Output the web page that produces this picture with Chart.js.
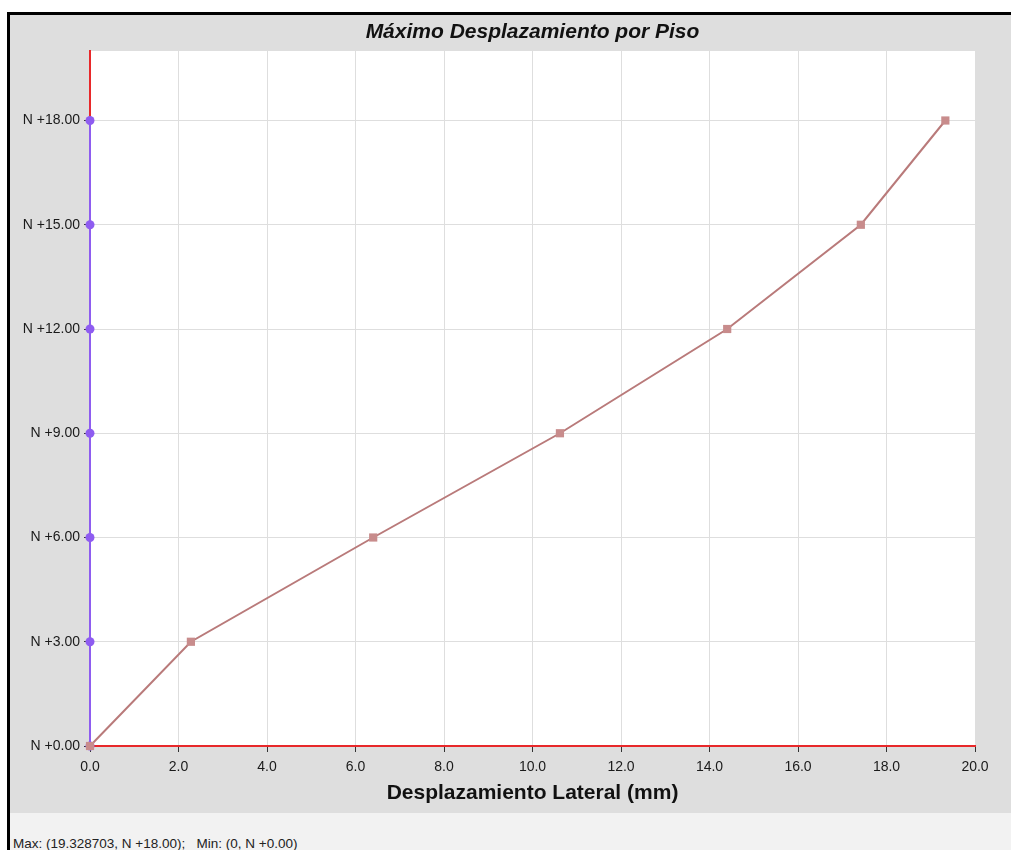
<!DOCTYPE html>
<html>
<head>
<meta charset="utf-8">
<script src="https://cdn.jsdelivr.net/npm/chart.js@4/dist/chart.umd.min.js"></script>
<style>
  html, body { margin: 0; padding: 0; background: #ffffff; width: 1011px; height: 850px; overflow: hidden; }
  #frame { position: absolute; left: 7px; top: 12px; width: 1004px; height: 838px;
           border-top: 3px solid #000; border-left: 3px solid #000; background: #dedede; }
  #plot { position: absolute; left: 0; top: 0; }
  #footer { position: absolute; left: 0; top: 798px; width: 1004px; height: 40px; background: #f2f2f2;
            font-family: "Liberation Sans", Arial, sans-serif; font-size: 13.5px; color: #222; }
  #footer span { position: absolute; left: 3px; top: 23px; white-space: pre; }
</style>
</head>
<body>
<div id="frame">
  <canvas id="plot" width="1001" height="798"></canvas>
  <div id="footer"><span id="footText"></span></div>
</div>
<script>
// ---- data ----
const floors = [0, 3, 6, 9, 12, 15, 18];
const displacements = [0, 2.28, 6.40, 10.62, 14.40, 17.42, 19.33];
const axisMarkerX = [0, 0, 0, 0, 0, 0, 0];
const chartTitle = "Máximo Desplazamiento por Piso";
const xAxisTitle = "Desplazamiento Lateral (mm)";
const footerText = "Max: (19.328703, N +18.00);   Min: (0, N +0.00)";

document.getElementById('footText').textContent = footerText;

const floorLabel = v => 'N +' + Number(v).toFixed(2);
const FONT = '"Liberation Sans", Arial, sans-serif';

const titlePlugin = {
  id: 'centeredTitle',
  afterDraw(chart) {
    const ctx = chart.ctx, a = chart.chartArea;
    ctx.save();
    ctx.font = 'italic bold 21px ' + FONT;
    ctx.fillStyle = '#111';
    ctx.textAlign = 'center';
    ctx.textBaseline = 'middle';
    ctx.fillText(chartTitle, (a.left + a.right) / 2, 17);
    ctx.restore();
  }
};
const plotBg = {
  id: 'plotBg',
  beforeDraw(chart) {
    const ctx = chart.ctx, a = chart.chartArea;
    ctx.save();
    ctx.fillStyle = '#ffffff';
    ctx.fillRect(a.left, a.top, a.right - a.left, a.bottom - a.top);
    ctx.restore();
  }
};

new Chart(document.getElementById('plot'), {
  type: 'scatter',
  data: {
    datasets: [
      {
        label: 'Desplazamiento',
        data: displacements.map((x, i) => ({ x: x, y: floors[i] })),
        showLine: true,
        clip: false,
        borderColor: '#b97a7a',
        backgroundColor: '#c88c8c',
        borderWidth: 2,
        pointStyle: 'rect',
        pointRadius: 5.8,
        pointBorderWidth: 0,
        order: 1
      },
      {
        label: 'Niveles',
        data: axisMarkerX.map((x, i) => ({ x: x, y: floors[i] })),
        showLine: true,
        clip: false,
        borderColor: '#8e5cf0',
        backgroundColor: '#8e5cf0',
        borderWidth: 2,
        pointStyle: 'circle',
        pointRadius: 4.5,
        pointBorderWidth: 0,
        order: 2
      }
    ]
  },
  options: {
    responsive: false,
    animation: false,
    layout: { padding: { top: 36, right: 36, left: 0, bottom: 0 } },
    plugins: { legend: { display: false }, tooltip: { enabled: false }, title: { display: false } },
    scales: {
      x: {
        type: 'linear', min: 0, max: 20,
        afterFit(s) { s.height = 67; },
        border: { color: '#e8282a', width: 2 },
        grid: { color: '#dedede', lineWidth: 1, tickLength: 6, tickColor: '#333' },
        ticks: { stepSize: 2, color: '#1a1a1a', padding: 7,
                 font: { family: FONT, size: 14 },
                 callback: v => Number(v).toFixed(1) },
        title: { display: true, text: xAxisTitle, color: '#111', padding: { top: 2, bottom: 7 },
                 font: { family: FONT, size: 21, weight: 'bold' } }
      },
      y: {
        type: 'linear', min: 0, max: 20,
        afterFit(s) { s.width = 80; },
        border: { color: '#e8282a', width: 2 },
        grid: { color: '#dedede', lineWidth: 1, tickLength: 6, tickColor: '#333' },
        ticks: { stepSize: 3, includeBounds: false, color: '#1a1a1a', padding: 4,
                 font: { family: FONT, size: 14 },
                 callback: v => floorLabel(v) }
      }
    }
  },
  plugins: [plotBg, titlePlugin]
});
</script>
</body>
</html>
